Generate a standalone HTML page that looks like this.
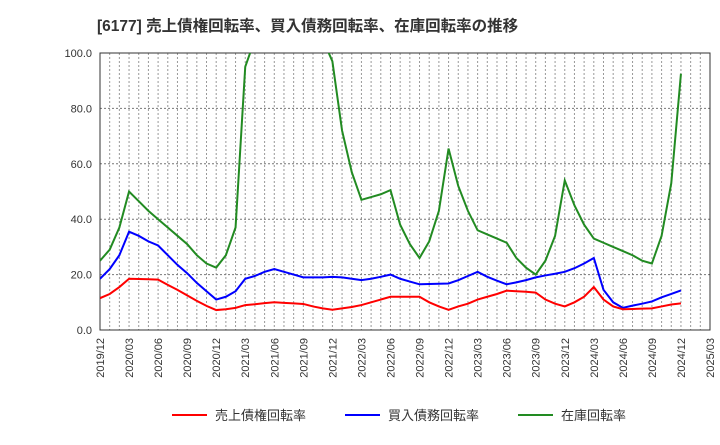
<!DOCTYPE html>
<html><head><meta charset="utf-8"><style>
body{margin:0;background:#fff;font-family:"Liberation Sans","Noto Sans CJK JP",sans-serif}
</style></head><body>
<svg id="c" width="720" height="440" xmlns="http://www.w3.org/2000/svg">
<text x="97" y="31" font-size="15.5" font-weight="bold" fill="#333" font-family="Liberation Sans, Noto Sans CJK JP, sans-serif">[6177]  売上債権回転率、買入債務回転率、在庫回転率の推移</text>
</svg>
<script>
const xTicks=["2019/12","2020/03","2020/06","2020/09","2020/12","2021/03","2021/06","2021/09","2021/12","2022/03","2022/06","2022/09","2022/12","2023/03","2023/06","2023/09","2023/12","2024/03","2024/06","2024/09","2024/12","2025/03"];
const yTicks=[0,20,40,60,80,100];
const receivables=[11.5,13,15.5,18.5,18.4,18.3,18.2,16.3,14.5,12.5,10.5,8.7,7.2,7.5,8,9,9.3,9.7,10,9.8,9.6,9.4,8.5,7.8,7.3,7.8,8.3,9,10,11,12,12,12,12,10,8.5,7.3,8.5,9.5,11,12,13,14.2,14,13.8,13.5,11,9.5,8.5,10,12,15.5,11,8.5,7.5,7.6,7.7,7.8,8.5,9.2,9.6];
const payables=[18.5,22,27,35.5,34,32,30.5,27,23.5,20.5,17,14,11,12,14,18.5,19.5,21,22,21,20,19,19,19,19.2,19,18.5,18,18.5,19.2,20,18.5,17.5,16.5,16.6,16.7,16.8,18,19.5,21,19.2,17.8,16.5,17.2,18,19,19.7,20.3,21,22.3,24,26,14.5,10,8,8.8,9.5,10.3,11.8,13,14.3];
const inventory=[25,29,37,50,46.5,43,40,37,34,31,27,24,22.5,27,37,95,105,108,110,110,110,110,108,105,97,72,57,47,48,49,50.5,38,31,26,32,43,65.5,52,43,36,34.5,33,31.5,26,22.5,20,25,34,54,45,38,33,31.5,30,28.5,27,25,24,34,53,92.5];
const NS="http://www.w3.org/2000/svg";
const svg=document.getElementById('c');
const L=100,R=710,T=53,B=330;
const xs=m=>L+(R-L)*m/63;
const ys=v=>B-(B-T)*v/100;
function mk(t,a){const e=document.createElementNS(NS,t);for(const k in a)e.setAttribute(k,a[k]);svg.appendChild(e);return e;}
const defs=mk('defs',{});const cp=document.createElementNS(NS,'clipPath');cp.setAttribute('id','clip');
const cr=document.createElementNS(NS,'rect');cr.setAttribute('x',L);cr.setAttribute('y',T);cr.setAttribute('width',R-L);cr.setAttribute('height',B-T);cp.appendChild(cr);defs.appendChild(cp);
for(let m=1;m<63;m++){const g=mk('line',{x1:xs(m),x2:xs(m),y1:T,y2:B,stroke:'#999','stroke-dasharray':'2,2','stroke-width':1});

}
yTicks.forEach(v=>{if(v>0&&v<100){const g=mk('line',{x1:L,x2:R,y1:ys(v),y2:ys(v),stroke:'#777','stroke-dasharray':'2,2','stroke-width':1});

}
const t=mk('text',{x:L-8,y:ys(v)+4,'text-anchor':'end','font-size':11,fill:'#333'});t.textContent=v.toFixed(1);

});
xTicks.forEach((s,i)=>{const x=xs(i*3);const t=mk('text',{x:x+4,y:B+8,'text-anchor':'end','font-size':11,fill:'#333',transform:`rotate(-90 ${x+4} ${B+8})`});t.textContent=s;

});
const fr=mk('rect',{x:L,y:T,width:R-L,height:B-T,fill:'none',stroke:'#333','stroke-width':1});


function line(arr,col,name){const p=mk('polyline',{points:arr.map((v,i)=>xs(i)+','+ys(v)).join(' '),fill:'none',stroke:col,'stroke-width':2,'clip-path':'url(#clip)'});

}
line(inventory,'#228b22','inventory-turnover-line');
line(payables,'#0000ff','payables-turnover-line');
line(receivables,'#ff0000','receivables-turnover-line');
const leg=[['売上債権回転率','#ff0000',172],['買入債務回転率','#0000ff',345],['在庫回転率','#228b22',518]];
leg.forEach(([s,c,x])=>{const l=mk('line',{x1:x,x2:x+35,y1:415,y2:415,stroke:c,'stroke-width':2});


const t=mk('text',{x:x+43,y:420,'font-size':13,fill:'#333'});t.textContent=s;

});
</script>
</body></html>
